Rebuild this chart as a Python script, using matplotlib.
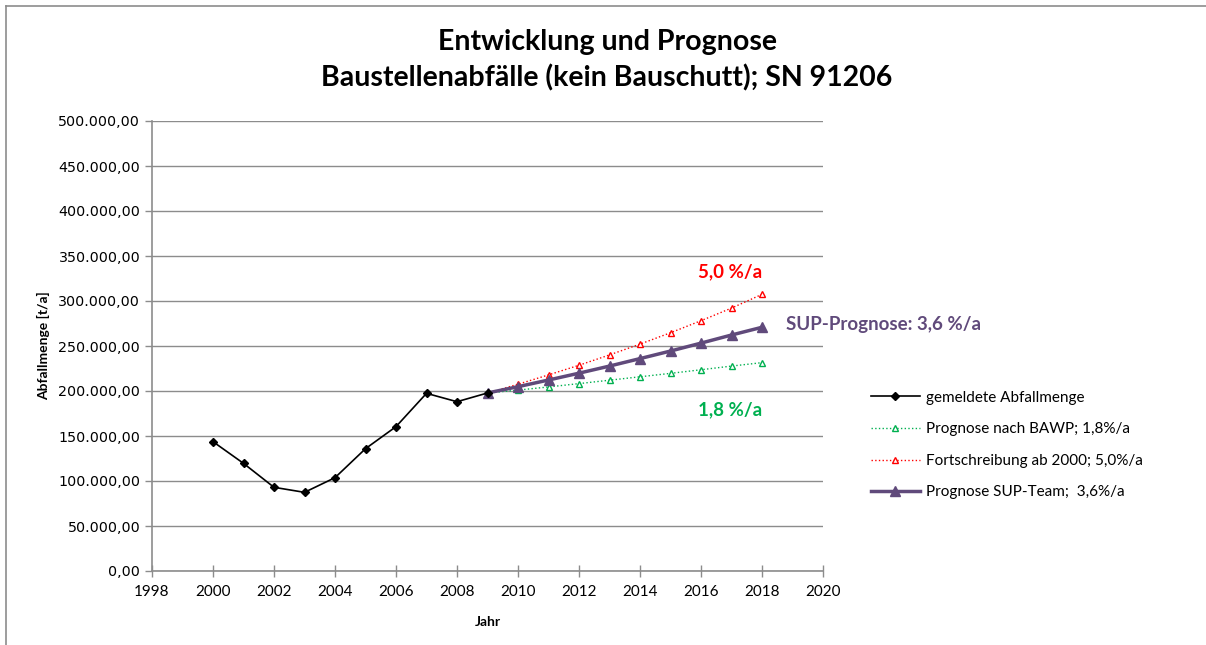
import matplotlib.pyplot as plt
from matplotlib.lines import Line2D
from matplotlib.ticker import FuncFormatter, MultipleLocator

# --- Daten ---
jahre_ist = [2000, 2001, 2002, 2003, 2004, 2005, 2006, 2007, 2008, 2009]
menge_ist = [143700, 119600, 93000, 87400, 103700, 135900, 160400, 197400, 188100, 197800]

jahre_prog = [2009, 2010, 2011, 2012, 2013, 2014, 2015, 2016, 2017, 2018]
prog_bawp = [197800, 201000, 204500, 208200, 212000, 215800, 219600, 223600, 227700, 231500]
prog_2000 = [197800, 207500, 217900, 228600, 240100, 252100, 264700, 278100, 292100, 307400]
prog_sup = [197800, 204800, 212200, 219800, 227700, 236000, 244400, 253200, 262200, 270800]

labels = ['gemeldete Abfallmenge', 'Prognose nach BAWP; 1,8%/a',
          'Fortschreibung ab 2000; 5,0%/a', 'Prognose SUP-Team;  3,6%/a']

rot = '#FF0000'
gruen = '#00B050'
lila = '#604A7B'

W, H = 1206, 645
fig = plt.figure(figsize=(W / 100, H / 100), dpi=100)
ax = fig.add_axes([152 / W, 1 - 571 / H, (823 - 152) / W, (571 - 121) / H])

# Rahmen der Grafik (nur oben und links sichtbar)
fig.add_artist(Line2D([6 / W, 1.0], [1 - 6 / H, 1 - 6 / H], transform=fig.transFigure,
                      color='#8c8c8c', lw=1.2))
fig.add_artist(Line2D([6 / W, 6 / W], [0.0, 1 - 6 / H], transform=fig.transFigure,
                      color='#8c8c8c', lw=1.2))

l1, = ax.plot(jahre_ist, menge_ist, color='black', lw=1.2, marker='D', ms=4.5, zorder=5)
l2, = ax.plot(jahre_prog, prog_bawp, color=gruen, lw=1, ls=':', marker='^', ms=5,
              mfc='white', mec=gruen, mew=1, zorder=3)
l3, = ax.plot(jahre_prog, prog_2000, color=rot, lw=1, ls=':', marker='^', ms=5,
              mfc='white', mec=rot, mew=1, zorder=3)
l4, = ax.plot(jahre_prog, prog_sup, color=lila, lw=2.5, marker='^', ms=7, zorder=4)

ax.set_xlim(1998, 2020)
ax.set_ylim(0, 500000)
ax.xaxis.set_major_locator(MultipleLocator(2))
ax.yaxis.set_major_locator(MultipleLocator(50000))
ax.yaxis.set_major_formatter(FuncFormatter(
    lambda v, p: f'{v:,.2f}'.replace(',', 'X').replace('.', ',').replace('X', '.')))
ax.grid(axis='y', color='#8c8c8c', lw=1)
ax.set_axisbelow(True)
for s in ['top', 'right']:
    ax.spines[s].set_visible(False)
for s in ['left', 'bottom']:
    ax.spines[s].set_color('#8c8c8c')
    ax.spines[s].set_linewidth(1.2)
ax.tick_params(axis='both', direction='out', length=5, color='#8c8c8c', width=1)
ax.tick_params(axis='x', direction='inout', length=8, pad=6)
for t in ax.get_yticklabels():
    t.set_fontfamily('DejaVu Sans')
    t.set_fontsize(10.3)
for t in ax.get_xticklabels():
    t.set_fontfamily('Lato')
    t.set_fontsize(11)

ax.set_xlabel('Jahr', fontfamily='Lato', fontweight='bold', fontsize=10, labelpad=12)
ax.set_ylabel('Abfallmenge [t/a]', fontfamily='Lato', fontweight='bold', fontsize=10, labelpad=6)

fig.text(607 / W, 1 - 42 / H, 'Entwicklung und Prognose', ha='center', va='center',
         fontfamily='Lato', fontweight='bold', fontsize=20.5)
fig.text(607 / W, 1 - 78 / H, 'Baustellenabfälle (kein Bauschutt); SN 91206', ha='center',
         va='center', fontfamily='Lato', fontweight='bold', fontsize=20.5)

ax.text(2016.95, 332000, '5,0 %/a', color=rot, fontfamily='Lato', fontweight='bold',
        fontsize=13.5, ha='center', va='center')
ax.text(2016.95, 179000, '1,8 %/a', color=gruen, fontfamily='Lato', fontweight='bold',
        fontsize=13.5, ha='center', va='center')
ax.text(2018.8, 274000, 'SUP-Prognose: 3,6 %/a', color=lila, fontfamily='Lato',
        fontweight='bold', fontsize=13.5, ha='left', va='center')

leg = fig.legend([l1, l2, l3, l4], labels, loc='upper left', bbox_to_anchor=(857 / W, 1 - 377 / H),
                 frameon=False, prop={'family': 'Lato', 'size': 11}, labelspacing=1.15,
                 handlelength=3.2, handletextpad=0.4)

fig.savefig('out.png', dpi=100)
